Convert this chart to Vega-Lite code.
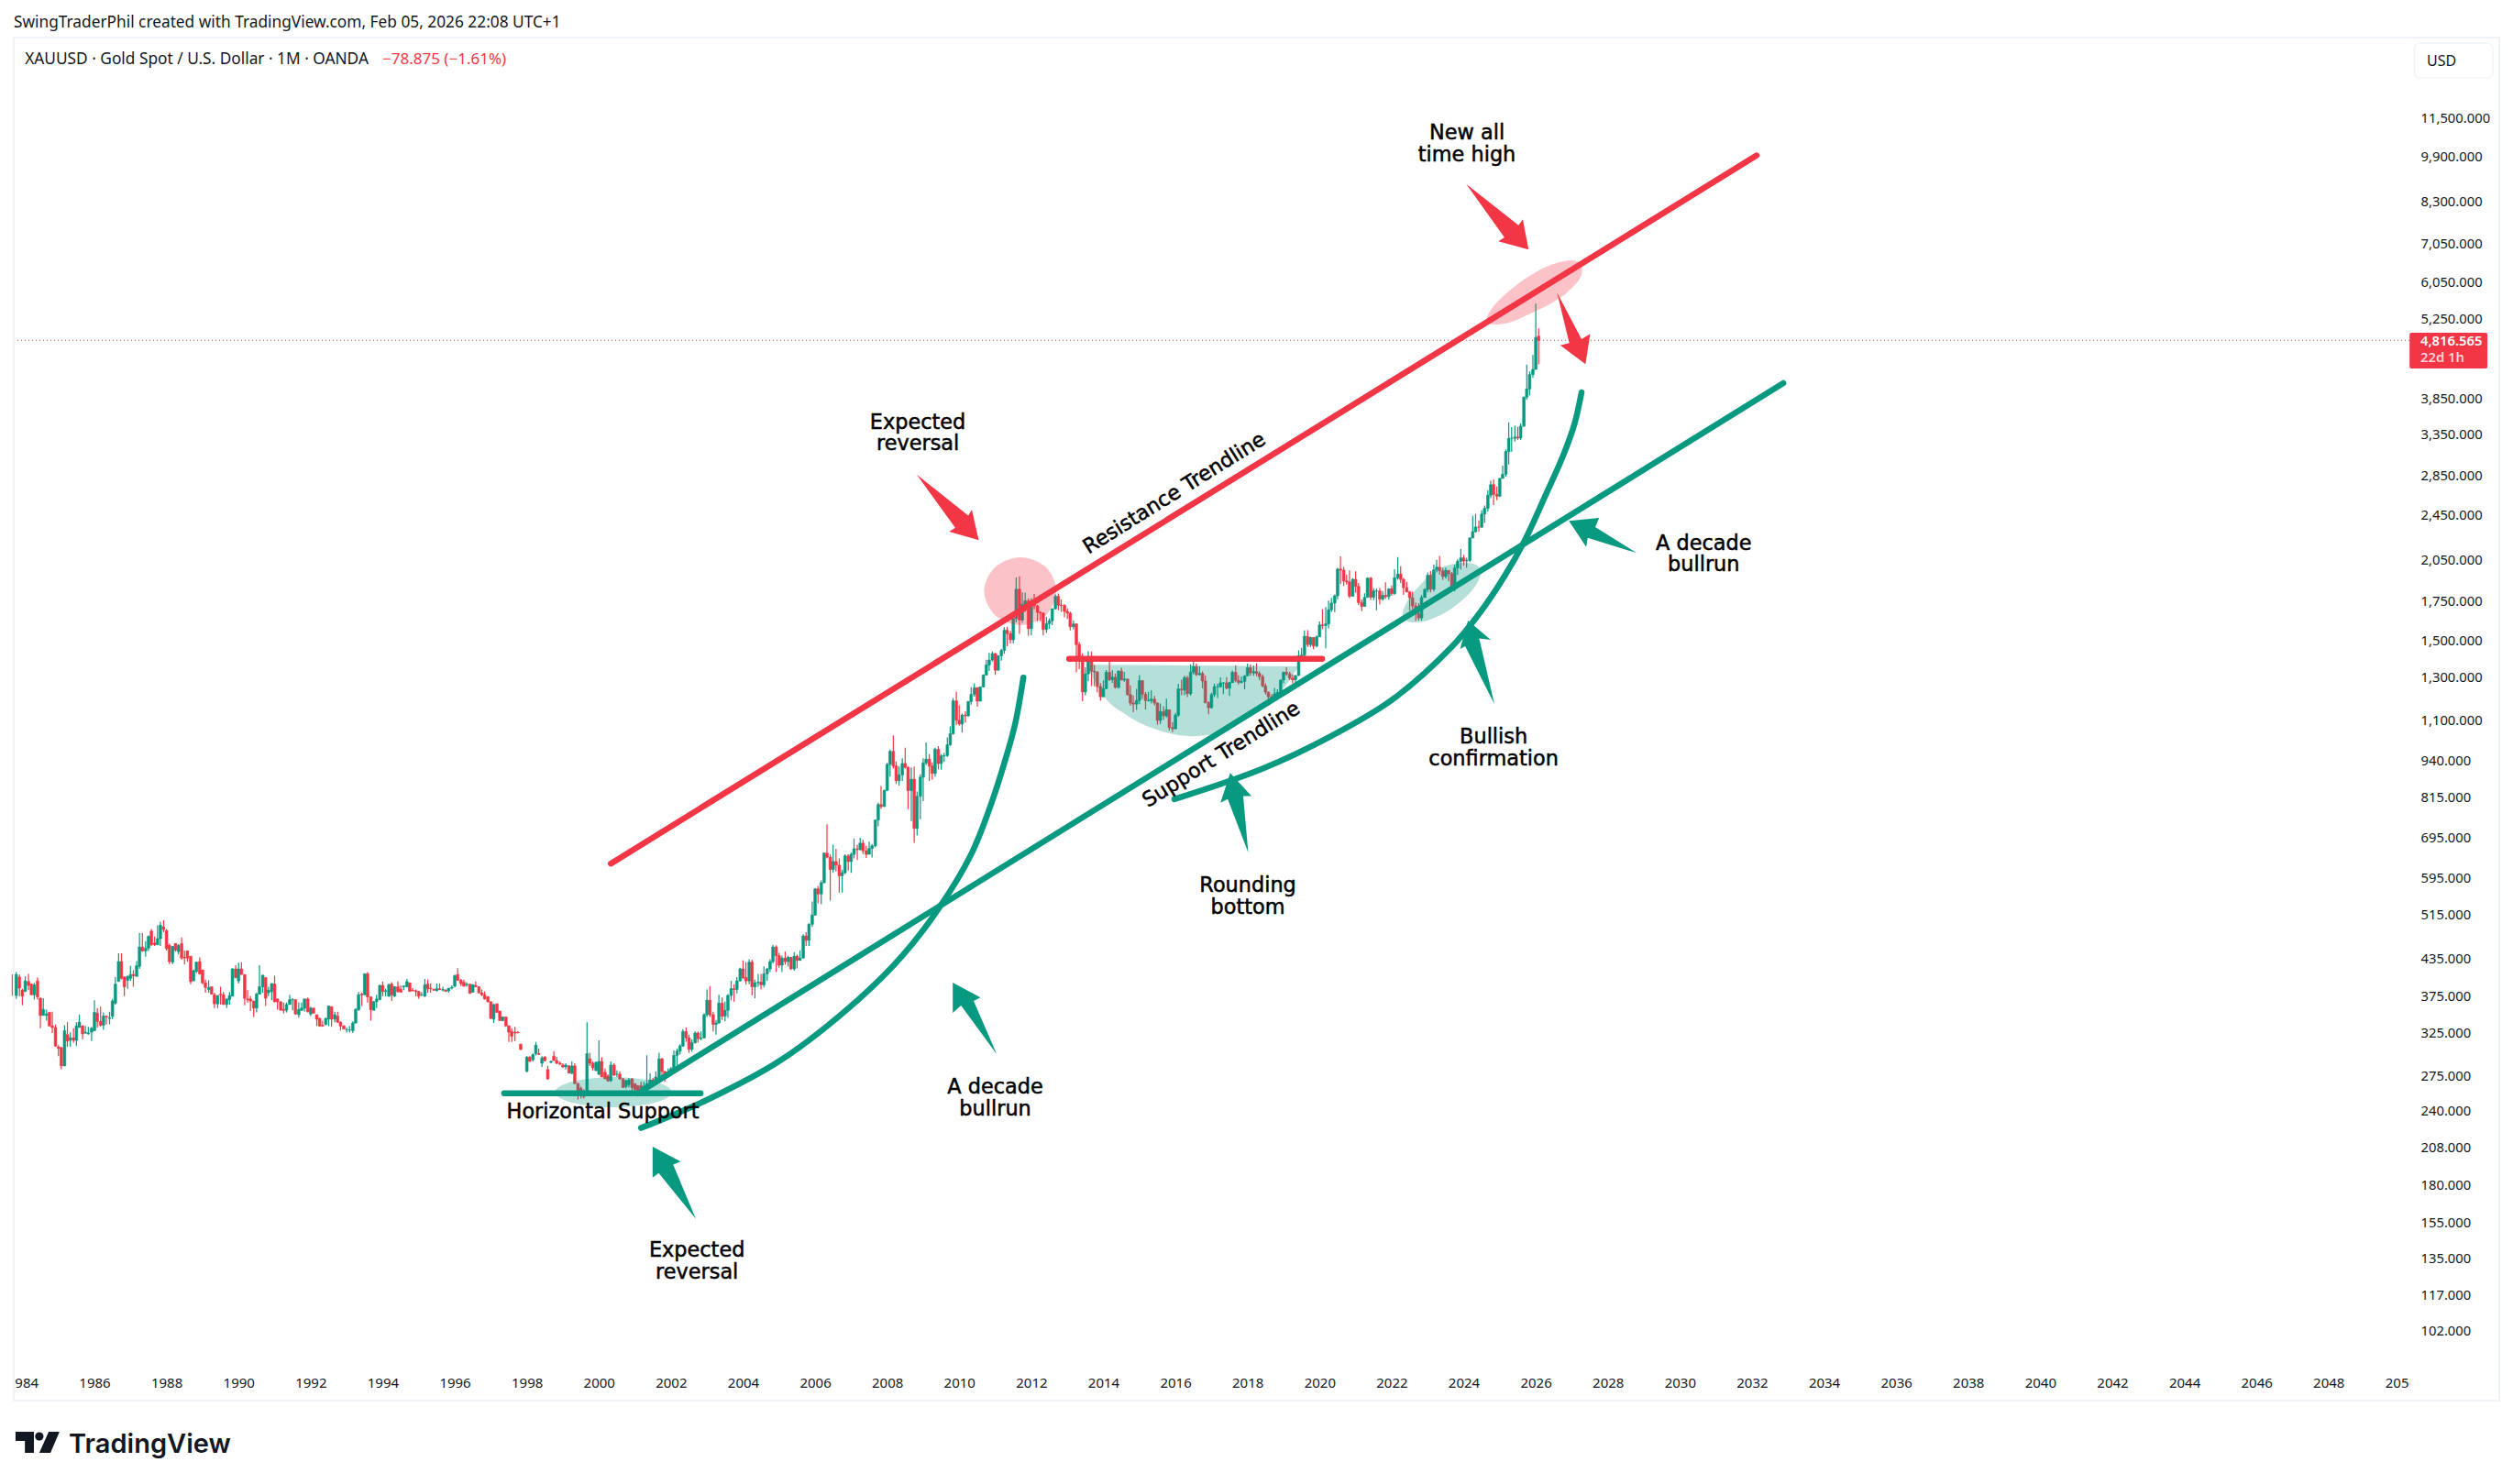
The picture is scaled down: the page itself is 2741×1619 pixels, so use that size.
{
"$schema":"https://vega.github.io/schema/vega-lite/v6.json",
"width":2741,"height":1619,"padding":0,
"autosize":{"type":"none"},
"background":"white",
"config":{"view":{"stroke":null}},
"datasets":{
"candles":[
{"t":1983.75,"o":407,"h":407,"l":375,"c":375},{"t":1983.83,"o":375,"h":411,"l":370,"c":407},{"t":1983.92,"o":403,"h":407,"l":374,"c":386},
{"t":1984,"o":383,"h":385,"l":361,"c":374},{"t":1984.08,"o":381,"h":404,"l":380,"c":397},{"t":1984.17,"o":396,"h":408,"l":383,"c":390},{"t":1984.25,"o":392,"h":393,"l":376,"c":376},{"t":1984.33,"o":376,"h":394,"l":369,"c":391},{"t":1984.42,"o":397,"h":402,"l":369,"c":373},{"t":1984.5,"o":371,"h":372,"l":330,"c":347},{"t":1984.58,"o":347,"h":371,"l":347,"c":355},{"t":1984.67,"o":347,"h":355,"l":340,"c":349},{"t":1984.75,"o":351,"h":352,"l":333,"c":333},{"t":1984.83,"o":333,"h":352,"l":324,"c":331},{"t":1984.92,"o":331,"h":335,"l":307,"c":308},
{"t":1985,"o":307,"h":309,"l":296,"c":305},{"t":1985.08,"o":306,"h":307,"l":281,"c":285},{"t":1985.17,"o":285,"h":334,"l":285,"c":327},{"t":1985.25,"o":322,"h":338,"l":307,"c":314},{"t":1985.33,"o":315,"h":325,"l":307,"c":318},{"t":1985.42,"o":318,"h":330,"l":312,"c":315},{"t":1985.5,"o":315,"h":338,"l":308,"c":333},{"t":1985.58,"o":331,"h":348,"l":331,"c":338},{"t":1985.67,"o":333,"h":334,"l":316,"c":323},{"t":1985.75,"o":324,"h":333,"l":323,"c":325},{"t":1985.83,"o":323,"h":332,"l":322,"c":324},{"t":1985.92,"o":325,"h":332,"l":314,"c":330},
{"t":1986,"o":327,"h":368,"l":327,"c":351},{"t":1986.08,"o":350,"h":357,"l":331,"c":339},{"t":1986.17,"o":339,"h":359,"l":332,"c":334},{"t":1986.25,"o":334,"h":351,"l":328,"c":346},{"t":1986.33,"o":346,"h":347,"l":335,"c":345},{"t":1986.42,"o":343,"h":352,"l":335,"c":344},{"t":1986.5,"o":346,"h":370,"l":342,"c":367},{"t":1986.58,"o":364,"h":403,"l":362,"c":392},{"t":1986.67,"o":396,"h":442,"l":396,"c":428},{"t":1986.75,"o":428,"h":442,"l":399,"c":401},{"t":1986.83,"o":403,"h":404,"l":374,"c":388},{"t":1986.92,"o":398,"h":405,"l":385,"c":404},
{"t":1987,"o":401,"h":421,"l":397,"c":407},{"t":1987.08,"o":407,"h":414,"l":388,"c":405},{"t":1987.17,"o":404,"h":429,"l":404,"c":421},{"t":1987.25,"o":420,"h":478,"l":416,"c":453},{"t":1987.33,"o":453,"h":478,"l":445,"c":446},{"t":1987.42,"o":446,"h":463,"l":436,"c":451},{"t":1987.5,"o":451,"h":474,"l":446,"c":472},{"t":1987.58,"o":482,"h":486,"l":455,"c":457},{"t":1987.67,"o":460,"h":472,"l":455,"c":457},{"t":1987.75,"o":457,"h":493,"l":457,"c":468},{"t":1987.83,"o":468,"h":500,"l":455,"c":493},{"t":1987.92,"o":490,"h":503,"l":480,"c":485},
{"t":1988,"o":483,"h":486,"l":447,"c":450},{"t":1988.08,"o":456,"h":459,"l":424,"c":428},{"t":1988.17,"o":427,"h":455,"l":424,"c":454},{"t":1988.25,"o":459,"h":460,"l":445,"c":448},{"t":1988.33,"o":445,"h":458,"l":440,"c":456},{"t":1988.42,"o":459,"h":470,"l":431,"c":434},{"t":1988.5,"o":435,"h":447,"l":423,"c":434},{"t":1988.58,"o":446,"h":447,"l":428,"c":434},{"t":1988.67,"o":437,"h":437,"l":392,"c":396},{"t":1988.75,"o":397,"h":415,"l":397,"c":413},{"t":1988.83,"o":412,"h":428,"l":409,"c":427},{"t":1988.92,"o":428,"h":435,"l":407,"c":408},
{"t":1989,"o":414,"h":415,"l":392,"c":394},{"t":1989.08,"o":394,"h":399,"l":379,"c":387},{"t":1989.17,"o":384,"h":398,"l":379,"c":387},{"t":1989.25,"o":388,"h":388,"l":377,"c":377},{"t":1989.33,"o":376,"h":379,"l":357,"c":363},{"t":1989.42,"o":363,"h":375,"l":357,"c":375},{"t":1989.5,"o":377,"h":388,"l":362,"c":376},{"t":1989.58,"o":376,"h":380,"l":362,"c":362},{"t":1989.67,"o":362,"h":370,"l":357,"c":370},{"t":1989.75,"o":369,"h":380,"l":362,"c":375},{"t":1989.83,"o":374,"h":417,"l":374,"c":416},{"t":1989.92,"o":416,"h":422,"l":401,"c":402},
{"t":1990,"o":397,"h":426,"l":393,"c":416},{"t":1990.08,"o":416,"h":427,"l":407,"c":407},{"t":1990.17,"o":407,"h":407,"l":361,"c":371},{"t":1990.25,"o":370,"h":383,"l":365,"c":369},{"t":1990.33,"o":370,"h":374,"l":353,"c":367},{"t":1990.42,"o":367,"h":367,"l":345,"c":357},{"t":1990.5,"o":357,"h":379,"l":351,"c":377},{"t":1990.58,"o":377,"h":422,"l":377,"c":388},{"t":1990.67,"o":388,"h":406,"l":379,"c":406},{"t":1990.75,"o":402,"h":402,"l":360,"c":371},{"t":1990.83,"o":379,"h":388,"l":374,"c":383},{"t":1990.92,"o":381,"h":393,"l":368,"c":393},
{"t":1991,"o":392,"h":405,"l":365,"c":366},{"t":1991.08,"o":370,"h":370,"l":355,"c":366},{"t":1991.17,"o":366,"h":366,"l":354,"c":354},{"t":1991.25,"o":355,"h":365,"l":350,"c":354},{"t":1991.33,"o":354,"h":365,"l":351,"c":362},{"t":1991.42,"o":362,"h":376,"l":362,"c":369},{"t":1991.5,"o":369,"h":371,"l":354,"c":369},{"t":1991.58,"o":369,"h":369,"l":348,"c":349},{"t":1991.67,"o":348,"h":365,"l":344,"c":355},{"t":1991.75,"o":354,"h":365,"l":353,"c":357},{"t":1991.83,"o":357,"h":370,"l":352,"c":370},{"t":1991.92,"o":370,"h":372,"l":351,"c":352},
{"t":1992,"o":349,"h":359,"l":346,"c":357},{"t":1992.08,"o":357,"h":357,"l":350,"c":350},{"t":1992.17,"o":348,"h":348,"l":333,"c":342},{"t":1992.25,"o":343,"h":344,"l":332,"c":333},{"t":1992.33,"o":334,"h":340,"l":332,"c":333},{"t":1992.42,"o":335,"h":344,"l":334,"c":343},{"t":1992.5,"o":342,"h":360,"l":333,"c":360},{"t":1992.58,"o":359,"h":359,"l":332,"c":342},{"t":1992.67,"o":342,"h":352,"l":338,"c":348},{"t":1992.75,"o":346,"h":352,"l":337,"c":338},{"t":1992.83,"o":338,"h":339,"l":327,"c":333},{"t":1992.92,"o":333,"h":334,"l":329,"c":329},
{"t":1993,"o":328,"h":331,"l":325,"c":328},{"t":1993.08,"o":328,"h":333,"l":325,"c":328},{"t":1993.17,"o":327,"h":339,"l":324,"c":337},{"t":1993.25,"o":337,"h":357,"l":336,"c":355},{"t":1993.33,"o":355,"h":380,"l":353,"c":376},{"t":1993.42,"o":377,"h":379,"l":360,"c":376},{"t":1993.5,"o":376,"h":409,"l":376,"c":408},{"t":1993.58,"o":408,"h":411,"l":365,"c":373},{"t":1993.67,"o":373,"h":373,"l":340,"c":355},{"t":1993.75,"o":354,"h":367,"l":354,"c":366},{"t":1993.83,"o":366,"h":376,"l":357,"c":370},{"t":1993.92,"o":369,"h":391,"l":368,"c":390},
{"t":1994,"o":390,"h":396,"l":374,"c":381},{"t":1994.08,"o":381,"h":385,"l":374,"c":382},{"t":1994.17,"o":374,"h":393,"l":373,"c":391},{"t":1994.25,"o":392,"h":395,"l":367,"c":376},{"t":1994.33,"o":374,"h":389,"l":373,"c":388},{"t":1994.42,"o":388,"h":396,"l":379,"c":381},{"t":1994.5,"o":384,"h":390,"l":379,"c":380},{"t":1994.58,"o":388,"h":390,"l":383,"c":389},{"t":1994.67,"o":388,"h":400,"l":387,"c":396},{"t":1994.75,"o":394,"h":394,"l":381,"c":381},{"t":1994.83,"o":383,"h":386,"l":381,"c":382},{"t":1994.92,"o":382,"h":384,"l":374,"c":381},
{"t":1995,"o":381,"h":381,"l":370,"c":374},{"t":1995.08,"o":376,"h":380,"l":374,"c":376},{"t":1995.17,"o":374,"h":400,"l":373,"c":391},{"t":1995.25,"o":392,"h":399,"l":379,"c":385},{"t":1995.33,"o":386,"h":393,"l":379,"c":385},{"t":1995.42,"o":384,"h":385,"l":382,"c":383},{"t":1995.5,"o":382,"h":393,"l":381,"c":385},{"t":1995.58,"o":385,"h":393,"l":383,"c":384},{"t":1995.67,"o":383,"h":388,"l":381,"c":384},{"t":1995.75,"o":383,"h":384,"l":381,"c":381},{"t":1995.83,"o":382,"h":386,"l":379,"c":386},{"t":1995.92,"o":386,"h":390,"l":384,"c":387},
{"t":1996,"o":389,"h":407,"l":387,"c":405},{"t":1996.08,"o":407,"h":417,"l":397,"c":398},{"t":1996.17,"o":398,"h":400,"l":389,"c":393},{"t":1996.25,"o":395,"h":399,"l":388,"c":389},{"t":1996.33,"o":391,"h":395,"l":388,"c":392},{"t":1996.42,"o":392,"h":392,"l":378,"c":378},{"t":1996.5,"o":380,"h":392,"l":379,"c":391},{"t":1996.58,"o":390,"h":396,"l":387,"c":388},{"t":1996.67,"o":388,"h":388,"l":378,"c":379},{"t":1996.75,"o":379,"h":384,"l":374,"c":376},{"t":1996.83,"o":376,"h":381,"l":369,"c":370},{"t":1996.92,"o":373,"h":374,"l":365,"c":366},
{"t":1997,"o":366,"h":366,"l":342,"c":343},{"t":1997.08,"o":342,"h":363,"l":337,"c":362},{"t":1997.17,"o":363,"h":364,"l":351,"c":351},{"t":1997.25,"o":353,"h":353,"l":340,"c":340},{"t":1997.33,"o":340,"h":345,"l":340,"c":345},{"t":1997.42,"o":345,"h":345,"l":332,"c":333},{"t":1997.5,"o":333,"h":334,"l":313,"c":325},{"t":1997.58,"o":326,"h":330,"l":313,"c":320},{"t":1997.67,"o":325,"h":332,"l":314,"c":324},{"t":1997.75,"o":325,"h":326,"l":324,"c":324},{"t":1997.83,"o":310,"h":311,"l":303,"c":304},
{"t":1998,"o":279,"h":296,"l":278,"c":295},{"t":1998.08,"o":295,"h":296,"l":290,"c":290},{"t":1998.17,"o":292,"h":299,"l":290,"c":298},{"t":1998.25,"o":299,"h":313,"l":297,"c":309},{"t":1998.33,"o":299,"h":305,"l":298,"c":298},{"t":1998.42,"o":288,"h":296,"l":284,"c":294},{"t":1998.5,"o":295,"h":296,"l":290,"c":291},{"t":1998.58,"o":281,"h":285,"l":270,"c":271},{"t":1998.67,"o":289,"h":291,"l":288,"c":290},{"t":1998.75,"o":296,"h":302,"l":291,"c":291},{"t":1998.83,"o":291,"h":295,"l":287,"c":288},{"t":1998.92,"o":288,"h":290,"l":286,"c":287},
{"t":1999,"o":286,"h":288,"l":283,"c":284},{"t":1999.08,"o":284,"h":288,"l":281,"c":286},{"t":1999.17,"o":285,"h":286,"l":277,"c":277},{"t":1999.25,"o":277,"h":290,"l":276,"c":285},{"t":1999.33,"o":285,"h":288,"l":266,"c":266},{"t":1999.42,"o":266,"h":267,"l":250,"c":258},{"t":1999.5,"o":261,"h":263,"l":251,"c":254},{"t":1999.58,"o":258,"h":260,"l":251,"c":253},{"t":1999.67,"o":258,"h":338,"l":255,"c":299},{"t":1999.75,"o":293,"h":300,"l":285,"c":288},{"t":1999.83,"o":288,"h":290,"l":280,"c":283},{"t":1999.92,"o":280,"h":290,"l":279,"c":289},
{"t":2000,"o":276,"h":315,"l":275,"c":290},{"t":2000.08,"o":290,"h":295,"l":273,"c":273},{"t":2000.17,"o":278,"h":282,"l":271,"c":271},{"t":2000.25,"o":274,"h":276,"l":268,"c":269},{"t":2000.33,"o":269,"h":290,"l":268,"c":286},{"t":2000.42,"o":286,"h":288,"l":274,"c":275},{"t":2000.5,"o":276,"h":280,"l":273,"c":276},{"t":2000.58,"o":276,"h":279,"l":270,"c":271},{"t":2000.67,"o":271,"h":272,"l":262,"c":262},{"t":2000.75,"o":263,"h":270,"l":261,"c":269},{"t":2000.83,"o":265,"h":272,"l":262,"c":270},{"t":2000.92,"o":271,"h":272,"l":258,"c":262},
{"t":2001,"o":266,"h":266,"l":256,"c":260},{"t":2001.08,"o":264,"h":264,"l":253,"c":255},{"t":2001.17,"o":264,"h":268,"l":255,"c":257},{"t":2001.25,"o":257,"h":268,"l":254,"c":263},{"t":2001.33,"o":263,"h":297,"l":262,"c":266},{"t":2001.42,"o":266,"h":277,"l":263,"c":270},{"t":2001.5,"o":270,"h":272,"l":264,"c":266},{"t":2001.58,"o":266,"h":279,"l":265,"c":273},{"t":2001.67,"o":273,"h":300,"l":272,"c":293},{"t":2001.75,"o":293,"h":294,"l":272,"c":279},{"t":2001.83,"o":279,"h":279,"l":268,"c":274},{"t":2001.92,"o":274,"h":282,"l":272,"c":277},
{"t":2002,"o":277,"h":284,"l":276,"c":282},{"t":2002.08,"o":282,"h":303,"l":281,"c":297},{"t":2002.17,"o":297,"h":305,"l":285,"c":302},{"t":2002.25,"o":302,"h":310,"l":298,"c":308},{"t":2002.33,"o":308,"h":329,"l":307,"c":326},{"t":2002.42,"o":326,"h":331,"l":313,"c":318},{"t":2002.5,"o":318,"h":322,"l":300,"c":304},{"t":2002.58,"o":304,"h":316,"l":301,"c":312},{"t":2002.67,"o":312,"h":326,"l":311,"c":324},{"t":2002.75,"o":324,"h":326,"l":312,"c":317},{"t":2002.83,"o":317,"h":326,"l":315,"c":318},{"t":2002.92,"o":318,"h":350,"l":317,"c":348},
{"t":2003,"o":348,"h":384,"l":345,"c":368},{"t":2003.08,"o":368,"h":389,"l":345,"c":348},{"t":2003.17,"o":348,"h":352,"l":326,"c":335},{"t":2003.25,"o":335,"h":341,"l":322,"c":337},{"t":2003.33,"o":337,"h":376,"l":336,"c":364},{"t":2003.42,"o":364,"h":372,"l":341,"c":346},{"t":2003.5,"o":346,"h":366,"l":339,"c":354},{"t":2003.58,"o":354,"h":377,"l":344,"c":375},{"t":2003.67,"o":375,"h":397,"l":368,"c":385},{"t":2003.75,"o":385,"h":392,"l":366,"c":384},{"t":2003.83,"o":384,"h":403,"l":378,"c":397},{"t":2003.92,"o":397,"h":418,"l":396,"c":416},
{"t":2004,"o":416,"h":430,"l":400,"c":402},{"t":2004.08,"o":402,"h":427,"l":391,"c":397},{"t":2004.17,"o":397,"h":432,"l":392,"c":427},{"t":2004.25,"o":427,"h":431,"l":375,"c":388},{"t":2004.33,"o":388,"h":399,"l":371,"c":394},{"t":2004.42,"o":394,"h":408,"l":388,"c":395},{"t":2004.5,"o":395,"h":408,"l":384,"c":391},{"t":2004.58,"o":391,"h":420,"l":387,"c":408},{"t":2004.67,"o":408,"h":418,"l":397,"c":416},{"t":2004.75,"o":416,"h":432,"l":411,"c":428},{"t":2004.83,"o":428,"h":457,"l":425,"c":453},{"t":2004.92,"o":453,"h":456,"l":411,"c":438},
{"t":2005,"o":438,"h":443,"l":418,"c":422},{"t":2005.08,"o":422,"h":438,"l":411,"c":434},{"t":2005.17,"o":434,"h":445,"l":423,"c":428},{"t":2005.25,"o":428,"h":438,"l":420,"c":435},{"t":2005.33,"o":435,"h":436,"l":414,"c":416},{"t":2005.42,"o":416,"h":444,"l":413,"c":437},{"t":2005.5,"o":437,"h":440,"l":417,"c":430},{"t":2005.58,"o":430,"h":447,"l":430,"c":434},{"t":2005.67,"o":434,"h":476,"l":433,"c":473},{"t":2005.75,"o":473,"h":480,"l":455,"c":465},{"t":2005.83,"o":465,"h":497,"l":455,"c":495},{"t":2005.92,"o":495,"h":541,"l":490,"c":513},
{"t":2006,"o":513,"h":570,"l":512,"c":568},{"t":2006.08,"o":568,"h":575,"l":537,"c":557},{"t":2006.17,"o":557,"h":587,"l":535,"c":582},{"t":2006.25,"o":582,"h":655,"l":581,"c":653},{"t":2006.33,"o":653,"h":731,"l":640,"c":643},{"t":2006.42,"o":643,"h":650,"l":543,"c":613},{"t":2006.5,"o":613,"h":675,"l":605,"c":632},{"t":2006.58,"o":632,"h":664,"l":608,"c":623},{"t":2006.67,"o":623,"h":640,"l":560,"c":598},{"t":2006.75,"o":598,"h":612,"l":560,"c":605},{"t":2006.83,"o":605,"h":650,"l":602,"c":646},{"t":2006.92,"o":646,"h":650,"l":610,"c":632},
{"t":2007,"o":632,"h":655,"l":605,"c":650},{"t":2007.08,"o":650,"h":691,"l":640,"c":664},{"t":2007.17,"o":664,"h":675,"l":636,"c":662},{"t":2007.25,"o":662,"h":693,"l":660,"c":679},{"t":2007.33,"o":679,"h":688,"l":651,"c":659},{"t":2007.42,"o":659,"h":672,"l":641,"c":650},{"t":2007.5,"o":650,"h":683,"l":650,"c":665},{"t":2007.58,"o":665,"h":677,"l":642,"c":672},{"t":2007.67,"o":672,"h":744,"l":668,"c":743},{"t":2007.75,"o":743,"h":795,"l":725,"c":789},{"t":2007.83,"o":789,"h":848,"l":776,"c":783},{"t":2007.92,"o":783,"h":836,"l":782,"c":834},
{"t":2008,"o":834,"h":928,"l":832,"c":923},{"t":2008.08,"o":923,"h":978,"l":880,"c":971},{"t":2008.17,"o":971,"h":1033,"l":908,"c":917},{"t":2008.25,"o":917,"h":933,"l":855,"c":866},{"t":2008.33,"o":866,"h":915,"l":850,"c":886},{"t":2008.42,"o":886,"h":945,"l":865,"c":926},{"t":2008.5,"o":926,"h":985,"l":908,"c":912},{"t":2008.58,"o":912,"h":915,"l":775,"c":833},{"t":2008.67,"o":833,"h":912,"l":740,"c":871},{"t":2008.75,"o":871,"h":915,"l":680,"c":719},{"t":2008.83,"o":719,"h":830,"l":700,"c":815},{"t":2008.92,"o":815,"h":888,"l":745,"c":878},
{"t":2009,"o":878,"h":945,"l":800,"c":928},{"t":2009.08,"o":928,"h":1005,"l":920,"c":942},{"t":2009.17,"o":942,"h":960,"l":865,"c":917},{"t":2009.25,"o":917,"h":930,"l":870,"c":891},{"t":2009.33,"o":891,"h":985,"l":880,"c":979},{"t":2009.42,"o":979,"h":991,"l":905,"c":926},{"t":2009.5,"o":926,"h":960,"l":905,"c":954},{"t":2009.58,"o":954,"h":966,"l":932,"c":955},{"t":2009.67,"o":955,"h":1025,"l":950,"c":996},{"t":2009.75,"o":996,"h":1070,"l":992,"c":1040},{"t":2009.83,"o":1040,"h":1195,"l":1036,"c":1182},{"t":2009.92,"o":1182,"h":1226,"l":1075,"c":1096},
{"t":2010,"o":1096,"h":1162,"l":1073,"c":1080},{"t":2010.08,"o":1080,"h":1125,"l":1045,"c":1118},{"t":2010.17,"o":1118,"h":1135,"l":1085,"c":1115},{"t":2010.25,"o":1115,"h":1180,"l":1112,"c":1179},{"t":2010.33,"o":1179,"h":1248,"l":1165,"c":1212},{"t":2010.42,"o":1212,"h":1266,"l":1202,"c":1244},{"t":2010.5,"o":1244,"h":1246,"l":1155,"c":1181},{"t":2010.58,"o":1181,"h":1250,"l":1178,"c":1248},{"t":2010.67,"o":1248,"h":1310,"l":1245,"c":1307},{"t":2010.75,"o":1307,"h":1388,"l":1305,"c":1359},{"t":2010.83,"o":1359,"h":1425,"l":1328,"c":1386},{"t":2010.92,"o":1386,"h":1432,"l":1378,"c":1421},
{"t":2011,"o":1421,"h":1424,"l":1308,"c":1332},{"t":2011.08,"o":1332,"h":1412,"l":1330,"c":1409},{"t":2011.17,"o":1409,"h":1448,"l":1382,"c":1439},{"t":2011.25,"o":1439,"h":1575,"l":1420,"c":1556},{"t":2011.33,"o":1556,"h":1577,"l":1462,"c":1536},{"t":2011.42,"o":1536,"h":1553,"l":1478,"c":1500},{"t":2011.5,"o":1500,"h":1632,"l":1478,"c":1628},{"t":2011.58,"o":1628,"h":1911,"l":1605,"c":1826},{"t":2011.67,"o":1826,"h":1920,"l":1535,"c":1620},{"t":2011.75,"o":1620,"h":1804,"l":1604,"c":1722},{"t":2011.83,"o":1722,"h":1803,"l":1670,"c":1746},{"t":2011.92,"o":1746,"h":1763,"l":1523,"c":1566},
{"t":2012,"o":1566,"h":1764,"l":1527,"c":1737},{"t":2012.08,"o":1737,"h":1792,"l":1688,"c":1711},{"t":2012.17,"o":1711,"h":1720,"l":1612,"c":1669},{"t":2012.25,"o":1669,"h":1675,"l":1612,"c":1664},{"t":2012.33,"o":1664,"h":1668,"l":1527,"c":1561},{"t":2012.42,"o":1561,"h":1640,"l":1540,"c":1597},{"t":2012.5,"o":1597,"h":1630,"l":1565,"c":1615},{"t":2012.58,"o":1615,"h":1695,"l":1588,"c":1692},{"t":2012.67,"o":1692,"h":1790,"l":1687,"c":1776},{"t":2012.75,"o":1776,"h":1796,"l":1683,"c":1717},{"t":2012.83,"o":1717,"h":1755,"l":1672,"c":1714},{"t":2012.92,"o":1714,"h":1723,"l":1636,"c":1675},
{"t":2013,"o":1675,"h":1695,"l":1626,"c":1664},{"t":2013.08,"o":1664,"h":1674,"l":1555,"c":1578},{"t":2013.17,"o":1578,"h":1617,"l":1563,"c":1595},{"t":2013.25,"o":1595,"h":1598,"l":1321,"c":1472},{"t":2013.33,"o":1472,"h":1488,"l":1338,"c":1393},{"t":2013.42,"o":1393,"h":1423,"l":1180,"c":1224},{"t":2013.5,"o":1224,"h":1348,"l":1208,"c":1313},{"t":2013.58,"o":1313,"h":1434,"l":1276,"c":1396},{"t":2013.67,"o":1396,"h":1433,"l":1252,"c":1327},{"t":2013.75,"o":1327,"h":1361,"l":1251,"c":1323},{"t":2013.83,"o":1323,"h":1325,"l":1222,"c":1250},{"t":2013.92,"o":1250,"h":1267,"l":1182,"c":1201},
{"t":2014,"o":1201,"h":1280,"l":1200,"c":1240},{"t":2014.08,"o":1240,"h":1333,"l":1238,"c":1321},{"t":2014.17,"o":1321,"h":1392,"l":1277,"c":1284},{"t":2014.25,"o":1284,"h":1332,"l":1268,"c":1296},{"t":2014.33,"o":1296,"h":1315,"l":1240,"c":1246},{"t":2014.42,"o":1246,"h":1332,"l":1240,"c":1327},{"t":2014.5,"o":1327,"h":1345,"l":1280,"c":1282},{"t":2014.58,"o":1282,"h":1323,"l":1273,"c":1287},{"t":2014.67,"o":1287,"h":1288,"l":1206,"c":1211},{"t":2014.75,"o":1211,"h":1255,"l":1160,"c":1172},{"t":2014.83,"o":1172,"h":1207,"l":1131,"c":1167},{"t":2014.92,"o":1167,"h":1239,"l":1141,"c":1184},
{"t":2015,"o":1184,"h":1307,"l":1167,"c":1279},{"t":2015.08,"o":1279,"h":1280,"l":1191,"c":1213},{"t":2015.17,"o":1213,"h":1224,"l":1143,"c":1183},{"t":2015.25,"o":1183,"h":1224,"l":1178,"c":1183},{"t":2015.33,"o":1183,"h":1232,"l":1170,"c":1190},{"t":2015.42,"o":1190,"h":1205,"l":1162,"c":1172},{"t":2015.5,"o":1172,"h":1175,"l":1077,"c":1095},{"t":2015.58,"o":1095,"h":1170,"l":1080,"c":1134},{"t":2015.67,"o":1134,"h":1157,"l":1098,"c":1115},{"t":2015.75,"o":1115,"h":1192,"l":1107,"c":1142},{"t":2015.83,"o":1142,"h":1143,"l":1053,"c":1065},{"t":2015.92,"o":1065,"h":1088,"l":1046,"c":1060},
{"t":2016,"o":1060,"h":1128,"l":1060,"c":1118},{"t":2016.08,"o":1118,"h":1263,"l":1111,"c":1238},{"t":2016.17,"o":1238,"h":1284,"l":1208,"c":1233},{"t":2016.25,"o":1233,"h":1304,"l":1208,"c":1293},{"t":2016.33,"o":1293,"h":1303,"l":1200,"c":1215},{"t":2016.42,"o":1215,"h":1362,"l":1207,"c":1322},{"t":2016.5,"o":1322,"h":1375,"l":1310,"c":1351},{"t":2016.58,"o":1351,"h":1367,"l":1302,"c":1309},{"t":2016.67,"o":1309,"h":1352,"l":1305,"c":1315},{"t":2016.75,"o":1315,"h":1326,"l":1241,"c":1277},{"t":2016.83,"o":1277,"h":1304,"l":1171,"c":1173},{"t":2016.92,"o":1173,"h":1180,"l":1122,"c":1151},
{"t":2017,"o":1151,"h":1220,"l":1147,"c":1211},{"t":2017.08,"o":1211,"h":1264,"l":1200,"c":1249},{"t":2017.17,"o":1249,"h":1264,"l":1195,"c":1249},{"t":2017.25,"o":1249,"h":1295,"l":1244,"c":1268},{"t":2017.33,"o":1268,"h":1270,"l":1214,"c":1268},{"t":2017.42,"o":1268,"h":1296,"l":1237,"c":1242},{"t":2017.5,"o":1242,"h":1274,"l":1205,"c":1269},{"t":2017.58,"o":1269,"h":1331,"l":1268,"c":1321},{"t":2017.67,"o":1321,"h":1357,"l":1271,"c":1280},{"t":2017.75,"o":1280,"h":1306,"l":1260,"c":1270},{"t":2017.83,"o":1270,"h":1299,"l":1265,"c":1275},{"t":2017.92,"o":1275,"h":1306,"l":1236,"c":1303},
{"t":2018,"o":1303,"h":1366,"l":1302,"c":1345},{"t":2018.08,"o":1345,"h":1362,"l":1303,"c":1318},{"t":2018.17,"o":1318,"h":1356,"l":1303,"c":1325},{"t":2018.25,"o":1325,"h":1369,"l":1302,"c":1315},{"t":2018.33,"o":1315,"h":1326,"l":1282,"c":1299},{"t":2018.42,"o":1299,"h":1310,"l":1246,"c":1253},{"t":2018.5,"o":1253,"h":1266,"l":1211,"c":1223},{"t":2018.58,"o":1223,"h":1225,"l":1160,"c":1201},{"t":2018.67,"o":1201,"h":1214,"l":1180,"c":1192},{"t":2018.75,"o":1192,"h":1243,"l":1182,"c":1215},{"t":2018.83,"o":1215,"h":1237,"l":1196,"c":1222},{"t":2018.92,"o":1222,"h":1284,"l":1221,"c":1282},
{"t":2019,"o":1282,"h":1326,"l":1266,"c":1321},{"t":2019.08,"o":1321,"h":1347,"l":1303,"c":1313},{"t":2019.17,"o":1313,"h":1324,"l":1281,"c":1292},{"t":2019.25,"o":1292,"h":1310,"l":1266,"c":1283},{"t":2019.33,"o":1283,"h":1306,"l":1267,"c":1305},{"t":2019.42,"o":1305,"h":1439,"l":1303,"c":1409},{"t":2019.5,"o":1409,"h":1453,"l":1382,"c":1413},{"t":2019.58,"o":1413,"h":1555,"l":1401,"c":1520},{"t":2019.67,"o":1520,"h":1557,"l":1459,"c":1472},{"t":2019.75,"o":1472,"h":1518,"l":1458,"c":1513},{"t":2019.83,"o":1513,"h":1516,"l":1445,"c":1464},{"t":2019.92,"o":1464,"h":1525,"l":1456,"c":1517},
{"t":2020,"o":1517,"h":1611,"l":1517,"c":1589},{"t":2020.08,"o":1589,"h":1689,"l":1563,"c":1585},{"t":2020.17,"o":1585,"h":1704,"l":1451,"c":1596},{"t":2020.25,"o":1596,"h":1747,"l":1568,"c":1686},{"t":2020.33,"o":1686,"h":1765,"l":1670,"c":1730},{"t":2020.42,"o":1730,"h":1789,"l":1671,"c":1780},{"t":2020.5,"o":1780,"h":1984,"l":1757,"c":1975},{"t":2020.58,"o":1975,"h":2075,"l":1863,"c":1967},{"t":2020.67,"o":1967,"h":1992,"l":1849,"c":1886},{"t":2020.75,"o":1886,"h":1933,"l":1860,"c":1879},{"t":2020.83,"o":1879,"h":1966,"l":1764,"c":1777},{"t":2020.92,"o":1777,"h":1906,"l":1775,"c":1898},
{"t":2021,"o":1898,"h":1959,"l":1802,"c":1847},{"t":2021.08,"o":1847,"h":1872,"l":1717,"c":1734},{"t":2021.17,"o":1734,"h":1755,"l":1677,"c":1708},{"t":2021.25,"o":1708,"h":1798,"l":1706,"c":1769},{"t":2021.33,"o":1769,"h":1913,"l":1766,"c":1907},{"t":2021.42,"o":1907,"h":1916,"l":1751,"c":1770},{"t":2021.5,"o":1770,"h":1833,"l":1750,"c":1814},{"t":2021.58,"o":1814,"h":1832,"l":1682,"c":1814},{"t":2021.67,"o":1814,"h":1835,"l":1721,"c":1757},{"t":2021.75,"o":1757,"h":1814,"l":1746,"c":1783},{"t":2021.83,"o":1783,"h":1877,"l":1759,"c":1774},{"t":2021.92,"o":1774,"h":1831,"l":1753,"c":1829},
{"t":2022,"o":1829,"h":1853,"l":1780,"c":1796},{"t":2022.08,"o":1796,"h":1974,"l":1786,"c":1909},{"t":2022.17,"o":1909,"h":2070,"l":1895,"c":1937},{"t":2022.25,"o":1937,"h":1998,"l":1872,"c":1897},{"t":2022.33,"o":1897,"h":1909,"l":1787,"c":1837},{"t":2022.42,"o":1837,"h":1879,"l":1805,"c":1807},{"t":2022.5,"o":1807,"h":1814,"l":1680,"c":1766},{"t":2022.58,"o":1766,"h":1808,"l":1688,"c":1711},{"t":2022.67,"o":1711,"h":1735,"l":1615,"c":1660},{"t":2022.75,"o":1660,"h":1730,"l":1617,"c":1633},{"t":2022.83,"o":1633,"h":1786,"l":1616,"c":1768},{"t":2022.92,"o":1768,"h":1833,"l":1765,"c":1824},
{"t":2023,"o":1824,"h":1949,"l":1804,"c":1928},{"t":2023.08,"o":1928,"h":1960,"l":1804,"c":1826},{"t":2023.17,"o":1826,"h":2010,"l":1810,"c":1969},{"t":2023.25,"o":1969,"h":2048,"l":1950,"c":1990},{"t":2023.33,"o":1990,"h":2079,"l":1932,"c":1962},{"t":2023.42,"o":1962,"h":1984,"l":1893,"c":1919},{"t":2023.5,"o":1919,"h":1987,"l":1903,"c":1965},{"t":2023.58,"o":1965,"h":1967,"l":1884,"c":1940},{"t":2023.67,"o":1940,"h":1953,"l":1848,"c":1849},{"t":2023.75,"o":1849,"h":2009,"l":1810,"c":1984},{"t":2023.83,"o":1984,"h":2052,"l":1931,"c":2036},{"t":2023.92,"o":2036,"h":2135,"l":1973,"c":2063},
{"t":2024,"o":2063,"h":2088,"l":2002,"c":2039},{"t":2024.08,"o":2039,"h":2065,"l":1984,"c":2044},{"t":2024.17,"o":2044,"h":2235,"l":2030,"c":2230},{"t":2024.25,"o":2230,"h":2431,"l":2228,"c":2286},{"t":2024.33,"o":2286,"h":2450,"l":2277,"c":2327},{"t":2024.42,"o":2327,"h":2387,"l":2286,"c":2326},{"t":2024.5,"o":2326,"h":2484,"l":2319,"c":2447},{"t":2024.58,"o":2447,"h":2531,"l":2364,"c":2503},{"t":2024.67,"o":2503,"h":2685,"l":2471,"c":2634},{"t":2024.75,"o":2634,"h":2790,"l":2603,"c":2744},{"t":2024.83,"o":2744,"h":2801,"l":2536,"c":2643},{"t":2024.92,"o":2643,"h":2726,"l":2583,"c":2624},
{"t":2025,"o":2624,"h":2817,"l":2615,"c":2812},{"t":2025.08,"o":2812,"h":2956,"l":2812,"c":2858},{"t":2025.17,"o":2858,"h":3149,"l":2832,"c":3123},{"t":2025.25,"o":3123,"h":3500,"l":2970,"c":3288},{"t":2025.33,"o":3288,"h":3435,"l":3120,"c":3289},{"t":2025.42,"o":3289,"h":3452,"l":3247,"c":3303},{"t":2025.5,"o":3303,"h":3439,"l":3268,"c":3290},{"t":2025.58,"o":3290,"h":3483,"l":3268,"c":3447},{"t":2025.67,"o":3447,"h":3872,"l":3437,"c":3859},{"t":2025.75,"o":3859,"h":4381,"l":3820,"c":3985},{"t":2025.83,"o":3985,"h":4265,"l":3886,"c":4215},{"t":2025.92,"o":4215,"h":4550,"l":4160,"c":4300},
{"t":2026,"o":4300,"h":5556,"l":4300,"c":4870},{"t":2026.08,"o":4895,"h":5045,"l":4385,"c":4816.565}
],
"fills":[
{"s":"e1","i":0,"t":2002.03,"p":257.4},{"s":"e1","i":1,"t":2001.55,"p":268.1},{"s":"e1","i":2,"t":2000.4,"p":273},{"s":"e1","i":3,"t":1999.26,"p":268.1},{"s":"e1","i":4,"t":1998.77,"p":257.4},{"s":"e1","i":5,"t":1999.26,"p":247},{"s":"e1","i":6,"t":2000.4,"p":242.6},{"s":"e1","i":7,"t":2001.55,"p":247},
{"s":"e3","i":0,"t":2022.31,"p":1669},{"s":"e3","i":1,"t":2022.48,"p":1761},{"s":"e3","i":2,"t":2022.82,"p":1865},{"s":"e3","i":3,"t":2023.24,"p":1967},{"s":"e3","i":4,"t":2023.75,"p":2017},{"s":"e3","i":5,"t":2024.26,"p":2017},{"s":"e3","i":6,"t":2024.47,"p":1961},{"s":"e3","i":7,"t":2024.35,"p":1859},{"s":"e3","i":8,"t":2024.01,"p":1761},{"s":"e3","i":9,"t":2023.5,"p":1669},{"s":"e3","i":10,"t":2022.99,"p":1617},{"s":"e3","i":11,"t":2022.56,"p":1605},{"s":"e3","i":12,"t":2022.35,"p":1627},
{"s":"e2","i":0,"t":2012.69,"p":1813},{"s":"e2","i":1,"t":2012.41,"p":1988},{"s":"e2","i":2,"t":2011.7,"p":2068},{"s":"e2","i":3,"t":2010.99,"p":1988},{"s":"e2","i":4,"t":2010.69,"p":1813},{"s":"e2","i":5,"t":2010.99,"p":1652},{"s":"e2","i":6,"t":2011.7,"p":1588},{"s":"e2","i":7,"t":2012.41,"p":1652},
{"s":"e4","i":0,"t":2024.64,"p":5259},{"s":"e4","i":1,"t":2024.85,"p":5522},{"s":"e4","i":2,"t":2025.28,"p":5854},{"s":"e4","i":3,"t":2025.87,"p":6213},{"s":"e4","i":4,"t":2026.47,"p":6478},{"s":"e4","i":5,"t":2027.02,"p":6578},{"s":"e4","i":6,"t":2027.27,"p":6439},{"s":"e4","i":7,"t":2027.23,"p":6140},{"s":"e4","i":8,"t":2026.89,"p":5820},{"s":"e4","i":9,"t":2026.47,"p":5582},{"s":"e4","i":10,"t":2025.87,"p":5353},{"s":"e4","i":11,"t":2025.28,"p":5165},{"s":"e4","i":12,"t":2024.85,"p":5123},{"s":"e4","i":13,"t":2024.67,"p":5184}
],
"bowl":[
{"t":2013.51,"p":1361},{"t":2013.79,"p":1268},{"t":2013.96,"p":1216},{"t":2014.64,"p":1119},{"t":2015.54,"p":1054},{"t":2016.46,"p":1030},{"t":2017.14,"p":1042},{"t":2018.05,"p":1119},{"t":2018.95,"p":1230},{"t":2019.41,"p":1352}
],
"lines":[
{"s":"sup","t":2001.19,"p":258.8},{"s":"sup","t":2032.87,"p":4077},
{"s":"hor","t":1997.37,"p":256.3},{"s":"hor","t":2002.82,"p":256.3},
{"s":"res","t":2000.33,"p":627},{"s":"res","t":2032.13,"p":9898},
{"s":"cap","t":2013.05,"p":1393},{"s":"cap","t":2020.07,"p":1393}
],
"curves":[
{"s":"c1","t":2001.17,"p":223.8},{"s":"c1","t":2003.05,"p":250.5},{"s":"c1","t":2005.03,"p":291},{"s":"c1","t":2007.22,"p":370},{"s":"c1","t":2008.41,"p":437},{"s":"c1","t":2009.45,"p":528.6},{"s":"c1","t":2010.32,"p":648},{"s":"c1","t":2010.86,"p":783},{"s":"c1","t":2011.27,"p":936},{"s":"c1","t":2011.55,"p":1080},{"s":"c1","t":2011.78,"p":1294},
{"s":"c2","t":2015.97,"p":805.6},{"s":"c2","t":2018.39,"p":906},{"s":"c2","t":2020.33,"p":1031},{"s":"c2","t":2022.03,"p":1189},{"s":"c2","t":2023.66,"p":1457},{"s":"c2","t":2024.42,"p":1657},{"s":"c2","t":2025.11,"p":1912},{"s":"c2","t":2025.69,"p":2206},{"s":"c2","t":2026.31,"p":2666},{"s":"c2","t":2026.76,"p":3074},{"s":"c2","t":2027.07,"p":3471},{"s":"c2","t":2027.27,"p":3933}
],
"arrows":[
{"s":"a1","k":"g","i":0,"t":2001.49,"p":208},{"s":"a1","k":"g","i":1,"t":2002.27,"p":196.3},{"s":"a1","k":"g","i":2,"t":2002.06,"p":194},{"s":"a1","k":"g","i":3,"t":2002.69,"p":157},{"s":"a1","k":"g","i":4,"t":2001.66,"p":187.7},{"s":"a1","k":"g","i":5,"t":2001.49,"p":184.4},
{"s":"a3","k":"g","i":0,"t":2017.52,"p":892.5},{"s":"a3","k":"g","i":1,"t":2018.11,"p":815.9},{"s":"a3","k":"g","i":2,"t":2017.88,"p":815.9},{"s":"a3","k":"g","i":3,"t":2018.02,"p":654.9},{"s":"a3","k":"g","i":4,"t":2017.45,"p":806.2},{"s":"a3","k":"g","i":5,"t":2017.25,"p":794.8},
{"s":"a5","k":"g","i":0,"t":2009.82,"p":394.3},{"s":"a5","k":"g","i":1,"t":2010.59,"p":372},{"s":"a5","k":"g","i":2,"t":2010.4,"p":367.2},{"s":"a5","k":"g","i":3,"t":2011.04,"p":298.5},{"s":"a5","k":"g","i":4,"t":2010.05,"p":360.8},{"s":"a5","k":"g","i":5,"t":2009.82,"p":350.6},
{"s":"a6","k":"g","i":0,"t":2024.12,"p":1617},{"s":"a6","k":"g","i":1,"t":2024.75,"p":1500},{"s":"a6","k":"g","i":2,"t":2024.43,"p":1507},{"s":"a6","k":"g","i":3,"t":2024.85,"p":1168},{"s":"a6","k":"g","i":4,"t":2024.04,"p":1463},{"s":"a6","k":"g","i":5,"t":2023.9,"p":1447},
{"s":"a7","k":"g","i":0,"t":2026.92,"p":2383},{"s":"a7","k":"g","i":1,"t":2027.76,"p":2411},{"s":"a7","k":"g","i":2,"t":2027.65,"p":2326},{"s":"a7","k":"g","i":3,"t":2028.8,"p":2103},{"s":"a7","k":"g","i":4,"t":2027.44,"p":2232},{"s":"a7","k":"g","i":5,"t":2027.4,"p":2153},
{"s":"a2","k":"r","i":0,"t":2008.82,"p":2855},{"s":"a2","k":"r","i":1,"t":2010.25,"p":2432},{"s":"a2","k":"r","i":2,"t":2010.35,"p":2490},{"s":"a2","k":"r","i":3,"t":2010.54,"p":2211},{"s":"a2","k":"r","i":4,"t":2009.72,"p":2286},{"s":"a2","k":"r","i":5,"t":2009.89,"p":2321},
{"s":"a4","k":"r","i":0,"t":2024.07,"p":8857},{"s":"a4","k":"r","i":1,"t":2025.52,"p":7542},{"s":"a4","k":"r","i":2,"t":2025.64,"p":7717},{"s":"a4","k":"r","i":3,"t":2025.8,"p":6859},{"s":"a4","k":"r","i":4,"t":2024.96,"p":7083},{"s":"a4","k":"r","i":5,"t":2025.13,"p":7192},
{"s":"a8","k":"r","i":0,"t":2026.59,"p":5799},{"s":"a8","k":"r","i":1,"t":2027.27,"p":4838},{"s":"a8","k":"r","i":2,"t":2027.51,"p":4938},{"s":"a8","k":"r","i":3,"t":2027.38,"p":4389},{"s":"a8","k":"r","i":4,"t":2026.68,"p":4724},{"s":"a8","k":"r","i":5,"t":2026.93,"p":4764}
],
"notes":[
{"txt":"New all","t":2024.09,"p":10873},{"txt":"time high","t":2024.09,"p":9990},
{"txt":"Expected","t":2008.85,"p":3521},{"txt":"reversal","t":2008.85,"p":3232},
{"txt":"Expected","t":2002.72,"p":139.5},{"txt":"reversal","t":2002.72,"p":128.1},
{"txt":"A decade","t":2011,"p":263.5},{"txt":"bullrun","t":2011,"p":242.6},
{"txt":"Rounding","t":2018.01,"p":577.9},{"txt":"bottom","t":2018.01,"p":530.5},
{"txt":"Bullish","t":2024.83,"p":1034},{"txt":"confirmation","t":2024.83,"p":946},
{"txt":"A decade","t":2030.66,"p":2197},{"txt":"bullrun","t":2030.66,"p":2021},
{"txt":"Horizontal Support","t":2000.11,"p":239.2}
],
"logo":[
{"s":"T","i":0,"t":1983.81,"p":68.5},{"s":"T","i":1,"t":1984.32,"p":68.5},{"s":"T","i":2,"t":1984.32,"p":63.1},{"s":"T","i":3,"t":1984.07,"p":63.1},{"s":"T","i":4,"t":1984.07,"p":66.1},{"s":"T","i":5,"t":1983.81,"p":66.1},
{"s":"V","i":0,"t":1984.73,"p":68.5},{"s":"V","i":1,"t":1985.03,"p":68.5},{"s":"V","i":2,"t":1984.78,"p":63.1},{"s":"V","i":3,"t":1984.47,"p":63.1}
]
},
"encoding":{
"x":{"field":"t","type":"quantitative","scale":{"domain":[1983.379,2053.12],"nice":false,"zero":false,"padding":0},
"axis":{"orient":"bottom","offset":-112,"title":null,"domain":false,"ticks":false,"grid":false,"values":[1984,1986,1988,1990,1992,1994,1996,1998,2000,2002,2004,2006,2008,2010,2012,2014,2016,2018,2020,2022,2024,2026,2028,2030,2032,2034,2036,2038,2040,2042,2044,2046,2048,2050],"format":"d","labelFont":"Noto Sans","labelFontSize":15,"labelColor":"#131722","labelPadding":1.5,"labelBaseline":"middle","labelFlush":false,"labelOverlap":false,"zindex":0}},
"y":{"field":"p","type":"quantitative","scale":{"type":"log","domain":[55.9,18139],"nice":false,"zero":false},
"axis":{"orient":"right","offset":-101,"title":null,"domain":false,"ticks":false,"grid":false,"values":[11500,9900,8300,7050,6050,5250,3850,3350,2850,2450,2050,1750,1500,1300,1100,940,815,695,595,515,435,375,325,275,240,208,180,155,135,117,102],"format":",.3f","labelFont":"Noto Sans","labelFontSize":14.8,"labelColor":"#131722","labelPadding":0,"labelOffset":1.5,"labelAlign":"left","labelBaseline":"middle","labelFlush":false,"labelOverlap":false,"zindex":0}}
},
"layer":[
{"data":{"values":[{"t":1983.76,"t2":2050.25,"p":4816.565}]},"mark":{"type":"rule","color":"#F23645","strokeWidth":1,"strokeDash":[1,3]},"encoding":{"x2":{"field":"t2"}}},
{"data":{"name":"candles"},"mark":{"type":"rule","strokeWidth":1.2},"encoding":{"y":{"field":"l","type":"quantitative"},"y2":{"field":"h"},"color":{"condition":{"test":"datum.c>=datum.o","value":"#089981"},"value":"#F23645"}}},
{"data":{"name":"candles"},"mark":{"type":"bar","size":2.8,"strokeWidth":0.6},"encoding":{"y":{"field":"o","type":"quantitative"},"y2":{"field":"c"},"color":{"condition":{"test":"datum.c>=datum.o","value":"#089981"},"value":"#F23645"},"stroke":{"condition":{"test":"datum.c>=datum.o","value":"#089981"},"value":"#F23645"}}},
{"data":{"name":"fills"},"transform":[{"filter":"datum.s=='e1'||datum.s=='e3'"}],"mark":{"type":"line","interpolate":"cardinal-closed","fill":"#089981","fillOpacity":0.3,"stroke":null},"encoding":{"detail":{"field":"s"},"order":{"field":"i"}}},
{"data":{"name":"fills"},"transform":[{"filter":"datum.s=='e2'||datum.s=='e4'"}],"mark":{"type":"line","interpolate":"cardinal-closed","fill":"#F23645","fillOpacity":0.3,"stroke":null},"encoding":{"detail":{"field":"s"},"order":{"field":"i"}}},
{"data":{"name":"bowl"},"mark":{"type":"line","interpolate":"monotone","fill":"#089981","fillOpacity":0.3,"stroke":null}},
{"data":{"name":"lines"},"transform":[{"filter":"datum.s=='sup'||datum.s=='hor'"}],"mark":{"type":"line","color":"#089981","strokeWidth":6.5,"strokeCap":"round"},"encoding":{"detail":{"field":"s"}}},
{"data":{"name":"lines"},"transform":[{"filter":"datum.s=='res'||datum.s=='cap'"}],"mark":{"type":"line","color":"#F23645","strokeWidth":6.5,"strokeCap":"round"},"encoding":{"detail":{"field":"s"}}},
{"data":{"name":"curves"},"mark":{"type":"line","color":"#089981","strokeWidth":6.5,"strokeCap":"round","interpolate":"catmull-rom"},"encoding":{"detail":{"field":"s"}}},
{"data":{"name":"arrows"},"transform":[{"filter":"datum.k=='g'"}],"mark":{"type":"line","fill":"#089981","stroke":null},"encoding":{"detail":{"field":"s"},"order":{"field":"i"}}},
{"data":{"name":"arrows"},"transform":[{"filter":"datum.k=='r'"}],"mark":{"type":"line","fill":"#F23645","stroke":null},"encoding":{"detail":{"field":"s"},"order":{"field":"i"}}},
{"data":{"name":"notes"},"mark":{"type":"text","font":"DejaVu Sans","fontSize":22.4,"color":"#000000","stroke":"#000000","strokeWidth":0.5,"align":"center","baseline":"middle","dy":1.5},"encoding":{"text":{"field":"txt"}}},
{"data":{"values":[{"txt":"Resistance Trendline","t":2015.97,"p":2656}]},"mark":{"type":"text","font":"DejaVu Sans","fontSize":22.4,"color":"#000000","stroke":"#000000","strokeWidth":0.5,"align":"center","baseline":"middle","angle":328},"encoding":{"text":{"field":"txt"}}},
{"data":{"values":[{"txt":"Support Trendline","t":2017.27,"p":959.6}]},"mark":{"type":"text","font":"DejaVu Sans","fontSize":22.4,"color":"#000000","stroke":"#000000","strokeWidth":0.5,"align":"center","baseline":"middle","angle":328},"encoding":{"text":{"field":"txt"}}},
{"data":{"values":[{"t":1983.379,"t2":1983.76,"p":88.6,"p2":78.2},{"t":2050.25,"t2":2052,"p":88.6,"p2":78.2}]},"mark":{"type":"rect","fill":"#ffffff"},"encoding":{"x2":{"field":"t2"},"y2":{"field":"p2"}}},
{"data":{"values":[{"t":1983.76,"t2":2052.74,"p":15669,"p2":77.4}]},"mark":{"type":"rect","fill":null,"stroke":"#f0f3fa","strokeWidth":2},"encoding":{"x2":{"field":"t2"},"y2":{"field":"p2"}}},
{"data":{"values":[{"t":2050.38,"t2":2052.56,"p":15336,"p2":13389}]},"mark":{"type":"rect","fill":"#ffffff","stroke":"#f0f3fa","strokeWidth":1.5,"cornerRadius":6},"encoding":{"x2":{"field":"t2"},"y2":{"field":"p2"}}},
{"data":{"values":[{"t":2050.25,"t2":2052.41,"p":4961,"p2":4316}]},"mark":{"type":"rect","fill":"#F23645","cornerRadius":2},"encoding":{"x2":{"field":"t2"},"y2":{"field":"p2"}}},
{"data":{"values":[{"txt":"4,816.565","t":2050.55,"p":4805}]},"mark":{"type":"text","font":"Noto Sans","fontSize":14.8,"fontWeight":600,"color":"#ffffff","align":"left","baseline":"middle","dy":1},"encoding":{"text":{"field":"txt"}}},
{"data":{"values":[{"txt":"22d 1h","t":2050.55,"p":4505}]},"mark":{"type":"text","font":"Noto Sans","fontSize":14.8,"fontWeight":600,"color":"#ffd0d5","align":"left","baseline":"middle","dy":1},"encoding":{"text":{"field":"txt"}}},
{"data":{"values":[{"txt":"USD","t":2050.73,"p":14330}]},"mark":{"type":"text","font":"Noto Sans","fontSize":16,"color":"#131722","align":"left","baseline":"middle","dy":1},"encoding":{"text":{"field":"txt"}}},
{"data":{"values":[{"txt":"SwingTraderPhil created with TradingView.com, Feb 05, 2026 22:08 UTC+1","t":1983.76,"p":16708}]},"mark":{"type":"text","font":"Noto Sans","fontSize":17.3,"color":"#131722","align":"left","baseline":"middle","dy":1.5},"encoding":{"text":{"field":"txt"}}},
{"data":{"values":[{"txt":"XAUUSD · Gold Spot / U.S. Dollar · 1M · OANDA","t":1984.07,"p":14484}]},"mark":{"type":"text","font":"Noto Sans","fontSize":17.3,"color":"#131722","align":"left","baseline":"middle","dy":1.5},"encoding":{"text":{"field":"txt"}}},
{"data":{"values":[{"txt":"−78.875 (−1.61%)","t":1993.99,"p":14484}]},"mark":{"type":"text","font":"Noto Sans","fontSize":17,"color":"#F23645","align":"left","baseline":"middle","dy":1.5},"encoding":{"text":{"field":"txt"}}},
{"data":{"name":"logo"},"mark":{"type":"line","fill":"#131722","stroke":null},"encoding":{"detail":{"field":"s"},"order":{"field":"i"}}},
{"data":{"values":[{"t":1984.47,"p":67.3}]},"mark":{"type":"circle","size":85,"color":"#131722","opacity":1}},
{"data":{"values":[{"txt":"TradingView","t":1985.29,"p":63.1}]},"mark":{"type":"text","font":"Inter","fontSize":29,"fontWeight":600,"color":"#131722","align":"left","baseline":"alphabetic"},"encoding":{"text":{"field":"txt"}}}
]
}
